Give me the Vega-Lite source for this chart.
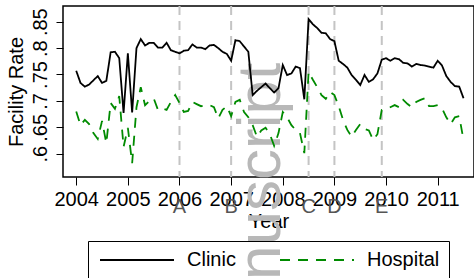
{
  "$schema": "https://vega.github.io/schema/vega-lite/v6.json",
  "width": 411,
  "height": 171,
  "autosize": {"type": "none"},
  "padding": {"left": 63, "top": 6, "right": 0, "bottom": 101},
  "background": "white",
  "config": {
    "view": {"stroke": "black", "strokeWidth": 1.5},
    "font": "Liberation Sans",
    "axis": {
      "grid": false,
      "domain": false,
      "tickColor": "black",
      "tickWidth": 1,
      "labelColor": "black",
      "titleColor": "black",
      "labelFont": "Liberation Sans",
      "titleFont": "Liberation Sans",
      "labelFontSize": 20,
      "titleFontSize": 20,
      "titleFontWeight": "normal",
      "labelOverlap": false,
      "labelFlush": false
    },
    "legend": {"strokeWidth": 1}
  },
  "datasets": {
    "rates": [
      {"t": 2004.000, "Clinic": 0.757, "Hospital": 0.680},
      {"t": 2004.083, "Clinic": 0.734, "Hospital": 0.654},
      {"t": 2004.167, "Clinic": 0.727, "Hospital": 0.664},
      {"t": 2004.250, "Clinic": 0.731, "Hospital": 0.656},
      {"t": 2004.333, "Clinic": 0.739, "Hospital": 0.639},
      {"t": 2004.417, "Clinic": 0.747, "Hospital": 0.628},
      {"t": 2004.500, "Clinic": 0.734, "Hospital": 0.662},
      {"t": 2004.583, "Clinic": 0.738, "Hospital": 0.620},
      {"t": 2004.667, "Clinic": 0.792, "Hospital": 0.696},
      {"t": 2004.750, "Clinic": 0.793, "Hospital": 0.685},
      {"t": 2004.833, "Clinic": 0.781, "Hospital": 0.709},
      {"t": 2004.917, "Clinic": 0.677, "Hospital": 0.613},
      {"t": 2005.000, "Clinic": 0.790, "Hospital": 0.649},
      {"t": 2005.083, "Clinic": 0.678, "Hospital": 0.582},
      {"t": 2005.167, "Clinic": 0.800, "Hospital": 0.688},
      {"t": 2005.250, "Clinic": 0.817, "Hospital": 0.726},
      {"t": 2005.333, "Clinic": 0.805, "Hospital": 0.692},
      {"t": 2005.417, "Clinic": 0.810, "Hospital": 0.700},
      {"t": 2005.500, "Clinic": 0.810, "Hospital": 0.705},
      {"t": 2005.583, "Clinic": 0.801, "Hospital": 0.683},
      {"t": 2005.667, "Clinic": 0.801, "Hospital": 0.686},
      {"t": 2005.750, "Clinic": 0.810, "Hospital": 0.683},
      {"t": 2005.833, "Clinic": 0.796, "Hospital": 0.698},
      {"t": 2005.917, "Clinic": 0.793, "Hospital": 0.711},
      {"t": 2006.000, "Clinic": 0.790, "Hospital": 0.696},
      {"t": 2006.083, "Clinic": 0.795, "Hospital": 0.679},
      {"t": 2006.167, "Clinic": 0.796, "Hospital": 0.681},
      {"t": 2006.250, "Clinic": 0.807, "Hospital": 0.698},
      {"t": 2006.333, "Clinic": 0.801, "Hospital": 0.694},
      {"t": 2006.417, "Clinic": 0.801, "Hospital": 0.690},
      {"t": 2006.500, "Clinic": 0.798, "Hospital": 0.692},
      {"t": 2006.583, "Clinic": 0.805, "Hospital": 0.692},
      {"t": 2006.667, "Clinic": 0.806, "Hospital": 0.688},
      {"t": 2006.750, "Clinic": 0.800, "Hospital": 0.667},
      {"t": 2006.833, "Clinic": 0.793, "Hospital": 0.683},
      {"t": 2006.917, "Clinic": 0.789, "Hospital": 0.690},
      {"t": 2007.000, "Clinic": 0.776, "Hospital": 0.671},
      {"t": 2007.083, "Clinic": 0.815, "Hospital": 0.698},
      {"t": 2007.167, "Clinic": 0.813, "Hospital": 0.702},
      {"t": 2007.250, "Clinic": 0.803, "Hospital": 0.679},
      {"t": 2007.333, "Clinic": 0.793, "Hospital": 0.669},
      {"t": 2007.417, "Clinic": 0.711, "Hospital": 0.654},
      {"t": 2007.500, "Clinic": 0.719, "Hospital": 0.632},
      {"t": 2007.583, "Clinic": 0.726, "Hospital": 0.644},
      {"t": 2007.667, "Clinic": 0.733, "Hospital": 0.649},
      {"t": 2007.750, "Clinic": 0.724, "Hospital": 0.637},
      {"t": 2007.833, "Clinic": 0.716, "Hospital": 0.615},
      {"t": 2007.917, "Clinic": 0.724, "Hospital": 0.639},
      {"t": 2008.000, "Clinic": 0.768, "Hospital": 0.679},
      {"t": 2008.083, "Clinic": 0.749, "Hospital": 0.669},
      {"t": 2008.167, "Clinic": 0.752, "Hospital": 0.654},
      {"t": 2008.250, "Clinic": 0.765, "Hospital": 0.645},
      {"t": 2008.333, "Clinic": 0.762, "Hospital": 0.639},
      {"t": 2008.417, "Clinic": 0.703, "Hospital": 0.601},
      {"t": 2008.500, "Clinic": 0.855, "Hospital": 0.755},
      {"t": 2008.583, "Clinic": 0.845, "Hospital": 0.740},
      {"t": 2008.667, "Clinic": 0.838, "Hospital": 0.726},
      {"t": 2008.750, "Clinic": 0.829, "Hospital": 0.711},
      {"t": 2008.833, "Clinic": 0.828, "Hospital": 0.704},
      {"t": 2008.917, "Clinic": 0.817, "Hospital": 0.717},
      {"t": 2009.000, "Clinic": 0.813, "Hospital": 0.711},
      {"t": 2009.083, "Clinic": 0.776, "Hospital": 0.690},
      {"t": 2009.167, "Clinic": 0.770, "Hospital": 0.664},
      {"t": 2009.250, "Clinic": 0.763, "Hospital": 0.645},
      {"t": 2009.333, "Clinic": 0.749, "Hospital": 0.632},
      {"t": 2009.417, "Clinic": 0.740, "Hospital": 0.645},
      {"t": 2009.500, "Clinic": 0.730, "Hospital": 0.656},
      {"t": 2009.583, "Clinic": 0.749, "Hospital": 0.647},
      {"t": 2009.667, "Clinic": 0.736, "Hospital": 0.644},
      {"t": 2009.750, "Clinic": 0.741, "Hospital": 0.626},
      {"t": 2009.833, "Clinic": 0.752, "Hospital": 0.637},
      {"t": 2009.917, "Clinic": 0.778, "Hospital": 0.683},
      {"t": 2010.000, "Clinic": 0.781, "Hospital": 0.686},
      {"t": 2010.083, "Clinic": 0.776, "Hospital": 0.688},
      {"t": 2010.167, "Clinic": 0.781, "Hospital": 0.692},
      {"t": 2010.250, "Clinic": 0.779, "Hospital": 0.688},
      {"t": 2010.333, "Clinic": 0.772, "Hospital": 0.702},
      {"t": 2010.417, "Clinic": 0.771, "Hospital": 0.694},
      {"t": 2010.500, "Clinic": 0.765, "Hospital": 0.688},
      {"t": 2010.583, "Clinic": 0.770, "Hospital": 0.698},
      {"t": 2010.667, "Clinic": 0.768, "Hospital": 0.702},
      {"t": 2010.750, "Clinic": 0.767, "Hospital": 0.705},
      {"t": 2010.833, "Clinic": 0.765, "Hospital": 0.690},
      {"t": 2010.917, "Clinic": 0.763, "Hospital": 0.690},
      {"t": 2011.000, "Clinic": 0.776, "Hospital": 0.692},
      {"t": 2011.083, "Clinic": 0.767, "Hospital": 0.686},
      {"t": 2011.167, "Clinic": 0.747, "Hospital": 0.669},
      {"t": 2011.250, "Clinic": 0.736, "Hospital": 0.656},
      {"t": 2011.333, "Clinic": 0.728, "Hospital": 0.669},
      {"t": 2011.417, "Clinic": 0.727, "Hospital": 0.671},
      {"t": 2011.500, "Clinic": 0.705, "Hospital": 0.626}
    ],
    "events": [
      {"t": 2006.0, "lab": "A"},
      {"t": 2007.0, "lab": "B"},
      {"t": 2008.5, "lab": "C"},
      {"t": 2009.0, "lab": "D"},
      {"t": 2009.917, "lab": "E"}
    ]
  },
  "layer": [
    {
      "data": {"values": [{"label": "Manuscript"}]},
      "mark": {"type": "text", "angle": 270, "fontSize": 62, "color": "#b8b8b8", "align": "right", "baseline": "alphabetic", "font": "Liberation Sans"},
      "encoding": {
        "x": {"datum": 2007.95, "type": "quantitative"},
        "y": {"datum": 0.772, "type": "quantitative"},
        "text": {"field": "label"}
      }
    },
    {
      "data": {"name": "events"},
      "mark": {"type": "rule", "color": "#c4c4c4", "strokeWidth": 2, "strokeDash": [9, 6]},
      "encoding": {
        "x": {"field": "t", "type": "quantitative"}
      }
    },
    {
      "data": {"name": "events"},
      "mark": {"type": "text", "fontSize": 20, "color": "#555555", "align": "center", "baseline": "alphabetic", "font": "Liberation Sans"},
      "encoding": {
        "x": {"field": "t", "type": "quantitative"},
        "y": {"datum": 0.4877, "type": "quantitative"},
        "text": {"field": "lab"}
      }
    },
    {
      "data": {"name": "rates"},
      "transform": [{"fold": ["Clinic", "Hospital"], "as": ["series", "rate"]}],
      "mark": {"type": "line", "strokeWidth": 1.8},
      "encoding": {
        "x": {
          "field": "t",
          "type": "quantitative",
          "scale": {"domain": [2003.744, 2011.703], "nice": false, "zero": false},
          "axis": {"title": "Year", "values": [2004, 2005, 2006, 2007, 2008, 2009, 2010, 2011], "format": "d", "tickSize": 8, "labelPadding": 4, "titlePadding": 2, "labelOverlap": false}
        },
        "y": {
          "field": "rate",
          "type": "quantitative",
          "scale": {"domain": [0.5559, 0.8797], "nice": false, "zero": false},
          "axis": {"title": "Facility Rate", "values": [0.6, 0.65, 0.7, 0.75, 0.8, 0.85], "labelExpr": "replace(format(datum.value, '.2~f'), '0.', '.')", "labelAngle": 270, "labelAlign": "center", "labelBaseline": "alphabetic", "tickSize": 7, "labelPadding": 10, "titlePadding": 4, "labelOverlap": false, "tickCount": 6}
        },
        "color": {
          "field": "series",
          "type": "nominal",
          "scale": {"domain": ["Clinic", "Hospital"], "range": ["#000000", "#008B00"]},
          "legend": {"title": null, "orient": "none", "legendX": 25, "legendY": 235, "direction": "horizontal", "symbolType": "M-1,0H9.57", "symbolSize": 196, "symbolStrokeWidth": 1.8, "symbolFillColor": "transparent", "labelFontSize": 20, "labelFont": "Liberation Sans", "labelColor": "black", "labelOffset": 70, "columnPadding": 40, "padding": 9, "strokeColor": "black"}
        },
        "strokeDash": {
          "field": "series",
          "type": "nominal",
          "scale": {"domain": ["Clinic", "Hospital"], "range": [[1, 0], [10, 8]]},
          "legend": {"title": null, "orient": "none", "legendX": 25, "legendY": 235, "direction": "horizontal", "symbolType": "M-1,0H9.57", "symbolSize": 196, "symbolStrokeWidth": 1.8, "symbolFillColor": "transparent", "labelFontSize": 20, "labelFont": "Liberation Sans", "labelColor": "black", "labelOffset": 70, "columnPadding": 40, "padding": 9, "strokeColor": "black"}
        }
      }
    }
  ]
}
